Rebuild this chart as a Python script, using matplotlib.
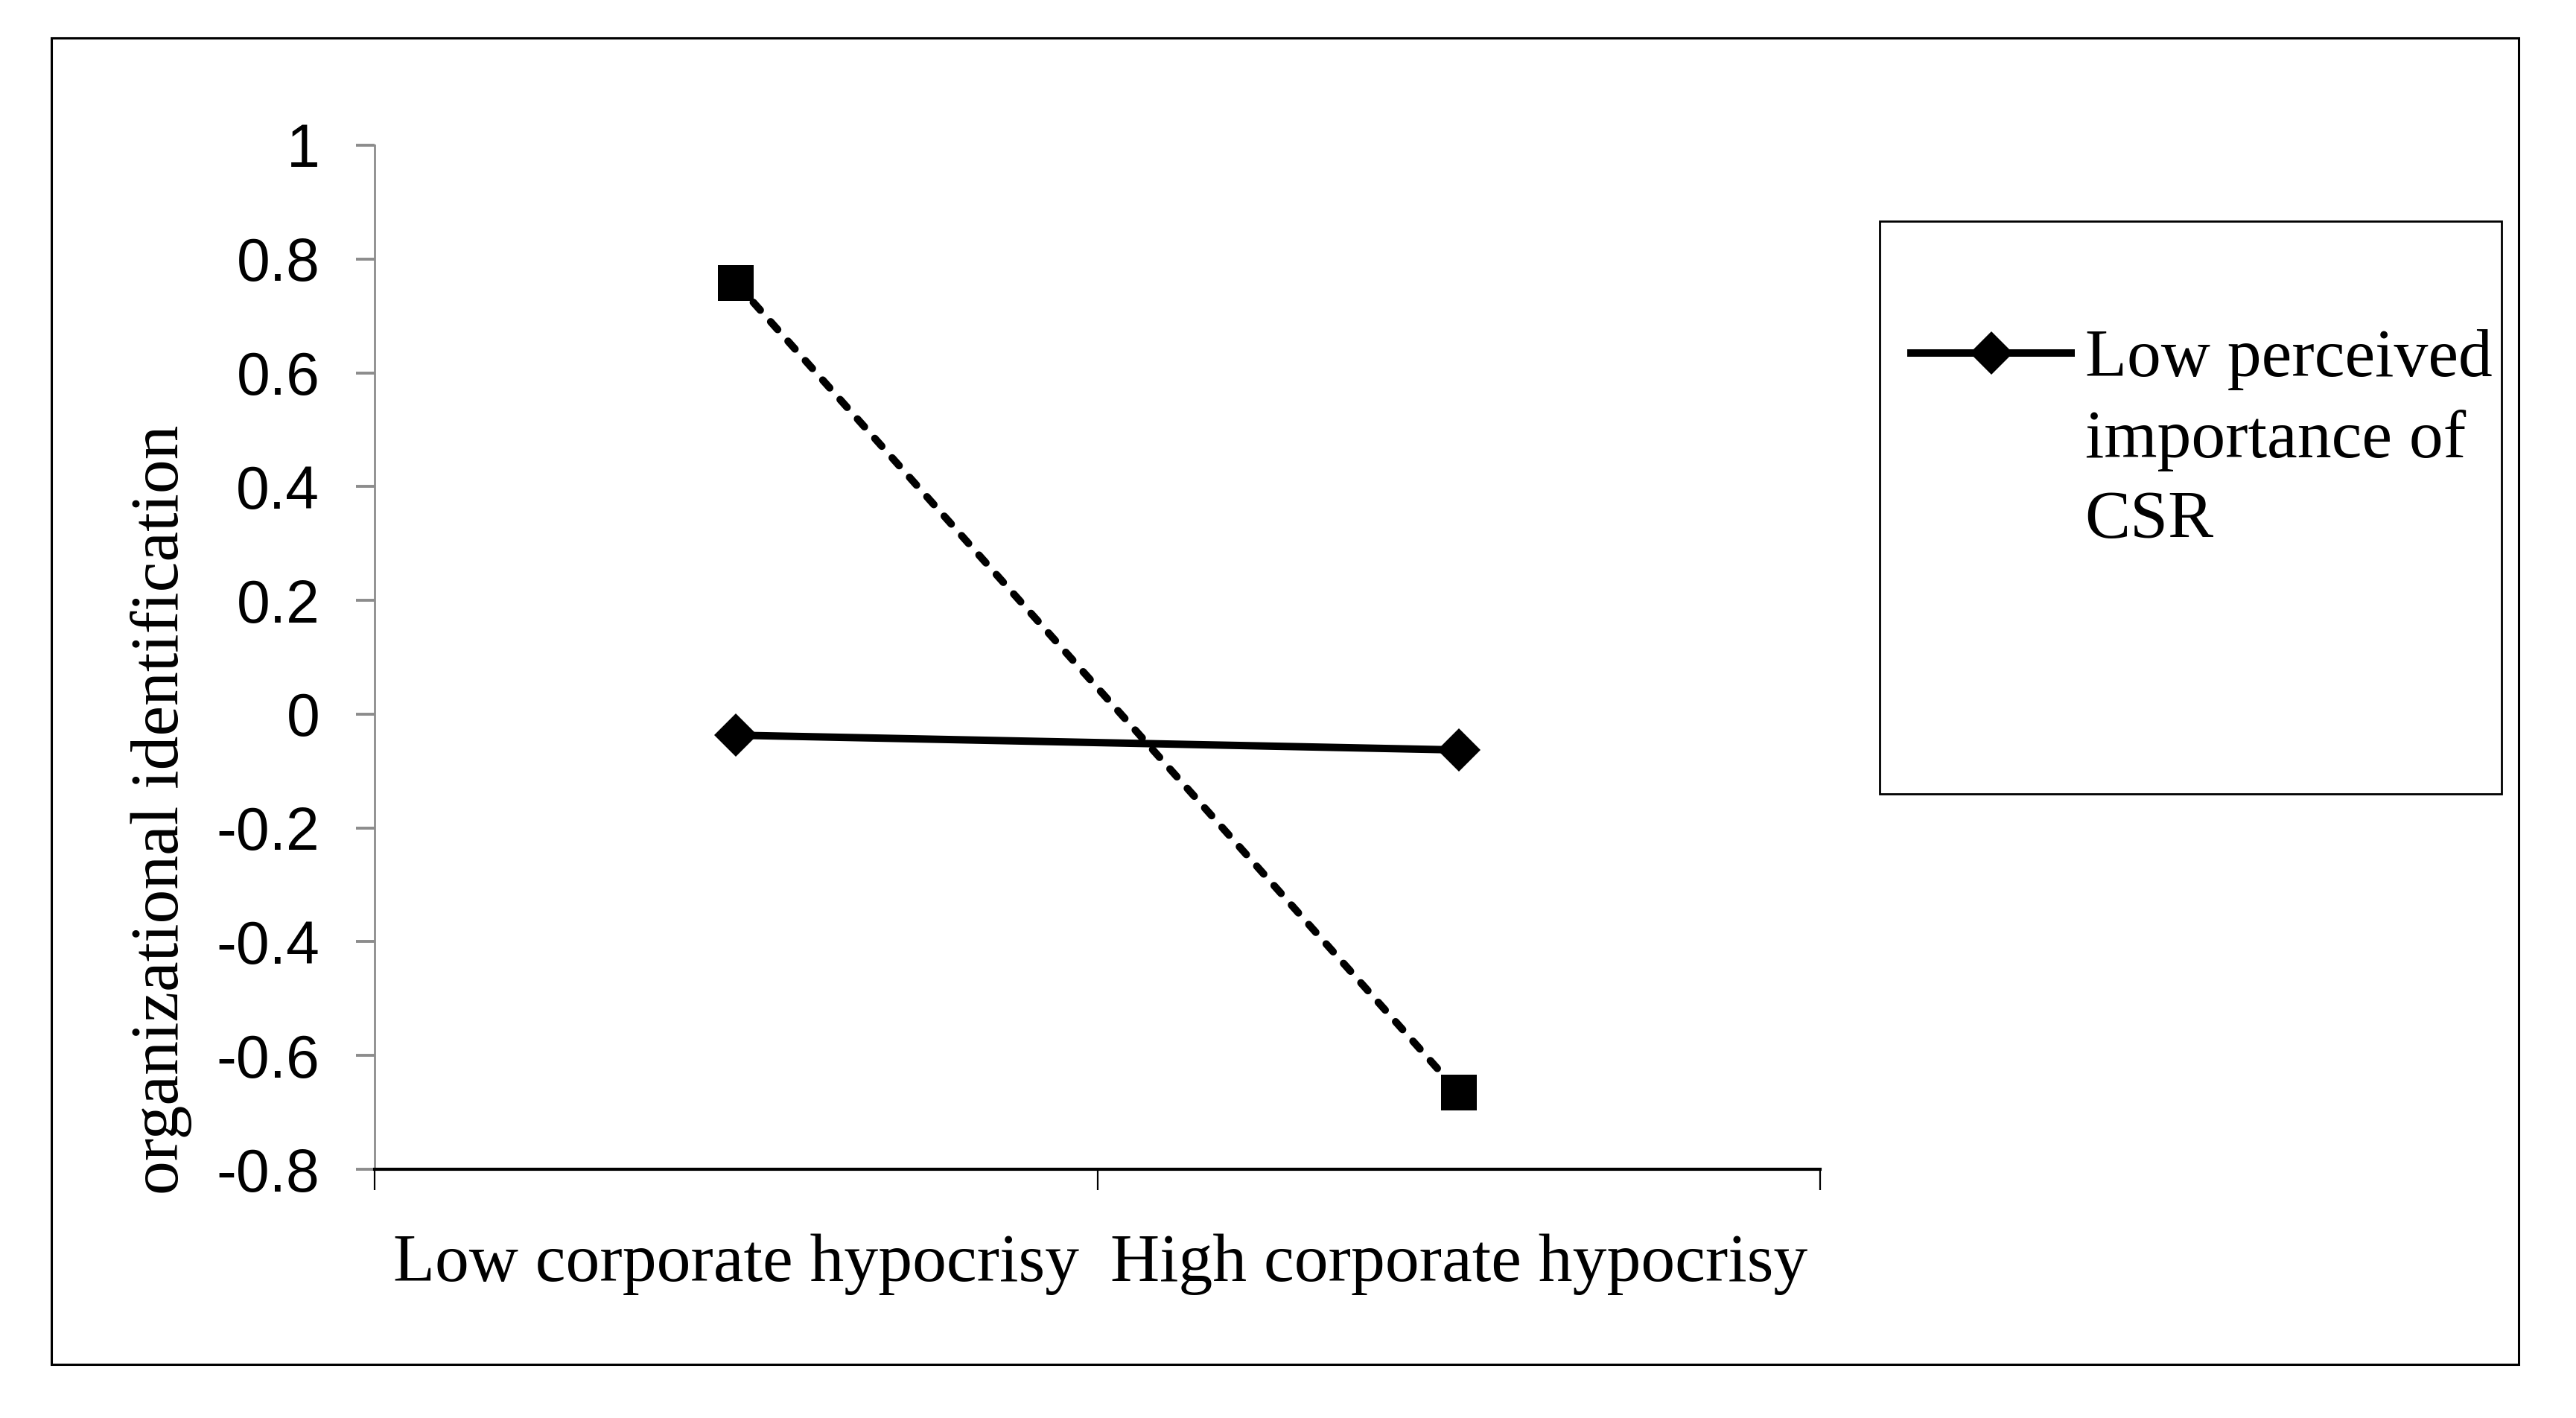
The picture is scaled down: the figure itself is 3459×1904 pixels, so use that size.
import matplotlib
matplotlib.use("Agg")
import matplotlib.pyplot as plt
from matplotlib.patches import Rectangle
from matplotlib.offsetbox import HPacker

# data
categories   = ["Low corporate hypocrisy", "High corporate hypocrisy"]
low_csr      = [-0.037, -0.063]   # solid line, diamonds
high_csr     = [0.758, -0.665]    # dashed line, squares
low_label    = "Low perceived\nimportance of\nCSR"
yticks       = [1, 0.8, 0.6, 0.4, 0.2, 0, -0.2, -0.4, -0.6, -0.8]
ytick_labels = ["1", "0.8", "0.6", "0.4", "0.2", "0", "-0.2", "-0.4", "-0.6", "-0.8"]
ylabel       = "organizational identification"

SERIF = ["Liberation Serif", "DejaVu Serif"]
SANS  = ["Liberation Sans", "DejaVu Sans"]
GRAY  = "#8c8c8c"


def plot_fig():
    fig = plt.figure(figsize=(3459 / 200, 1904 / 200), dpi=200)
    ax = fig.add_axes([0.1454, 0.1754, 0.5612, 0.7222])

    x = list(range(len(categories)))
    ax.plot(x, low_csr, "-", color="black", linewidth=3.6,
            marker="D", markersize=15, markeredgewidth=0, label=low_label)
    ax.plot(x, high_csr, color="black", linewidth=3.6,
            linestyle=(0, (1.4, 2.1)), dash_capstyle="round",
            marker="s", markersize=17, markeredgewidth=0)

    """
    Axes and ticks
    """
    ax.set_xlim(-0.5, len(categories) - 0.5)
    ax.set_ylim(-0.8, 1.0)

    ax.set_yticks(yticks)
    ax.set_yticklabels(ytick_labels, fontfamily=SANS, fontsize=29)
    ax.tick_params(axis="y", length=9, width=1.4, color=GRAY, pad=17.5)

    ax.set_xticks(x)
    ax.set_xticklabels(categories, fontfamily=SERIF, fontsize=33)
    ax.set_xticks([i - 0.5 for i in range(len(categories) + 1)], minor=True)
    ax.tick_params(axis="x", which="major", length=0, pad=31)
    ax.tick_params(axis="x", which="minor", length=10, width=0.8, color="black")

    for s in ["top", "right"]:
        ax.spines[s].set_visible(False)
    ax.spines["left"].set_color(GRAY)
    ax.spines["left"].set_linewidth(1.0)
    ax.spines["bottom"].set_color("black")
    ax.spines["bottom"].set_linewidth(1.5)
    ax.spines["bottom"].set_zorder(3)

    ax.set_ylabel(ylabel, fontfamily=SERIF, fontsize=33)
    ax.yaxis.set_label_coords(-0.126, 0.351)

    """
    Legend (only the first series is visible in the original)
    """
    leg = fig.legend(loc="upper left", bbox_to_anchor=(0.7418, 0.7679),
                     frameon=False, borderpad=0, borderaxespad=0,
                     handlelength=2.35, handletextpad=0.2,
                     prop={"family": SERIF, "size": 33})
    for t in leg.get_texts():
        t.set_linespacing(1.4)
    for hp in leg.findobj(HPacker):
        hp.align = "top"

    fig.patches.append(Rectangle((0.7297, 0.4401), 0.2414, 0.4039,
                                 transform=fig.transFigure, fill=False,
                                 edgecolor="black", linewidth=1.0))
    # outer border of the picture
    fig.patches.append(Rectangle((0.01995, 0.0378), 0.95775, 0.9354,
                                 transform=fig.transFigure, fill=False,
                                 edgecolor="black", linewidth=1.1))

    fig.savefig("out.png", dpi=200, facecolor="white")
    plt.close(fig)


def main():
    plot_fig()


if __name__ == '__main__':
    main()
